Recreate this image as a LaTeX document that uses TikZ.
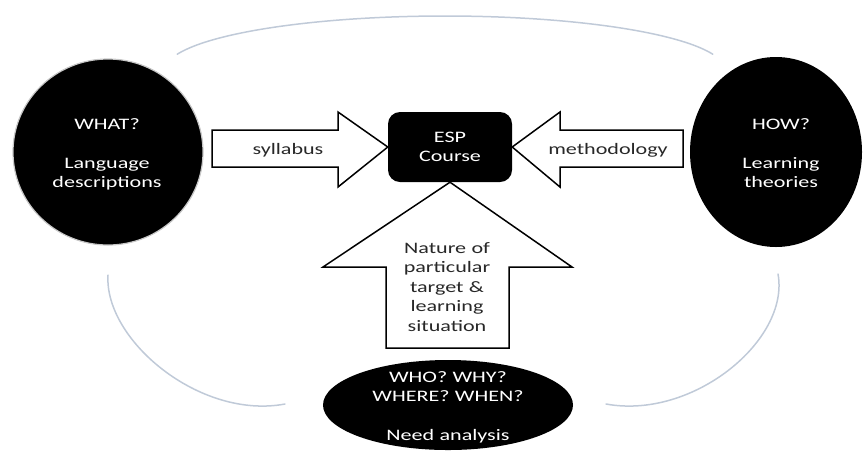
\documentclass[tikz,border=0pt]{standalone}
\usepackage{fontspec}
\setmainfont{Carlito}[FakeStretch=1.38]
\usetikzlibrary{shapes.geometric}
\definecolor{halo}{RGB}{192,202,216}
\definecolor{inktext}{RGB}{40,40,40}
\tikzset{
  blob/.style={ellipse, fill=black, inner sep=0pt},
  lbl/.style={font=\fontsize{16}{19.5}\selectfont, text width=220pt,
              align=center, anchor=base, inner sep=0pt},
  wtxt/.style={lbl, text=white},
  ktxt/.style={lbl, text=inktext},
  blockarrow/.style={draw=black, fill=white, line width=1.5pt, line join=miter},
  haloline/.style={draw=halo, line width=1.5pt, line cap=round},
}
\begin{document}
\begin{tikzpicture}[x=1pt, y=-1pt]
  \useasboundingbox (0,0) rectangle (866,451);

  % light guiding arcs around the course
  \draw[haloline] plot[domain=197:343, samples=80, smooth]
        ({445+280*cos(\x)}, {70+54*sin(\x)});
  \draw[haloline] (108,275) .. controls (104,340) and (200,420) .. (285,404);
  \draw[haloline] (778,274) .. controls (790,340) and (693,420) .. (606,404);

  % the three sources and the course itself
  \node[blob, draw=black!22, line width=1.2pt,
        minimum width=190pt, minimum height=186pt] (what) at (108,152) {};
  \node[blob, minimum width=172pt, minimum height=190pt] (how) at (776,152) {};
  \node[blob, minimum width=250pt, minimum height=90pt] (who) at (448,405) {};
  \node[fill=black, rounded corners=12pt, minimum width=124pt,
        minimum height=70pt, inner sep=0pt] (esp) at (450,147) {};

  % block arrows pointing into the course
  \draw[blockarrow] (212,130) -- (338,130) -- (338,112) -- (esp.west)
        -- (338,187) -- (338,167) -- (212,167) -- cycle;
  \draw[blockarrow] (683,130) -- (560,130) -- (560,112) -- (esp.east)
        -- (560,187) -- (560,167) -- (683,167) -- cycle;
  \draw[blockarrow] (386,348) -- (386,267) -- (323,267) -- (esp.south)
        -- (572,267) -- (509,267) -- (509,348) -- cycle;

  % labels
  \node[wtxt] (whattext) at (107,129) {WHAT?\\[19.5pt]Language\\descriptions};
  \node[wtxt] (howtext) at (781,129) {HOW?\\[19.5pt]Learning\\theories};
  \node[wtxt] (esptext) at (450,142) {ESP\\Course};
  \node[wtxt] (whotext) at (448,382) {WHO? WHY?\\WHERE? WHEN?\\[19.5pt]Need analysis};
  \node[ktxt] (syltext) at (288,154) {syllabus};
  \node[ktxt] (methtext) at (608,154) {methodology};
  \node[ktxt] (naturetext) at (447,253)
        {Nature of\\particular\\target \&\\learning\\situation};
\end{tikzpicture}
\end{document}
